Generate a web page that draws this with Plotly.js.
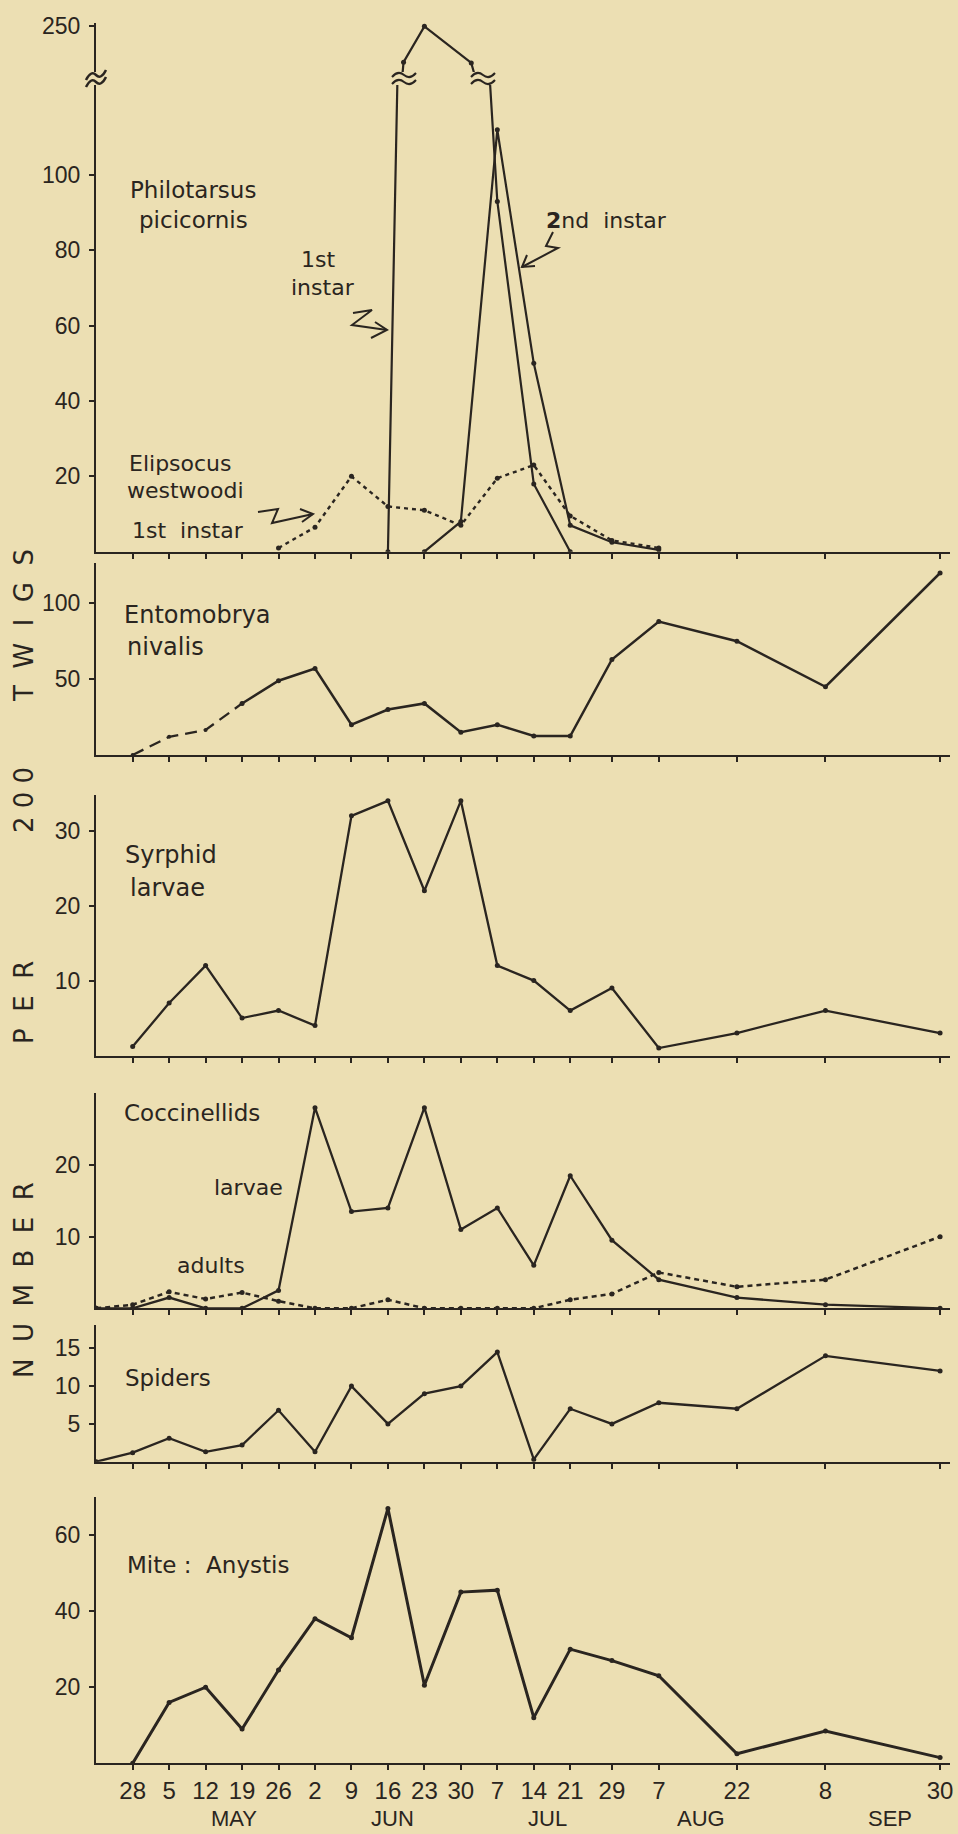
<!DOCTYPE html>
<html>
<head>
<meta charset="utf-8">
<script src="https://cdn.plot.ly/plotly-3.0.1.min.js"></script>
<style>html,body{margin:0;padding:0;background:#ecdfb3;}#chart{width:958px;height:1834px;}</style>
</head>
<body>
<div id="chart"></div>
<script>
// ---------- DATA ----------
const tickDates = ['1974-04-28','1974-05-05','1974-05-12','1974-05-19','1974-05-26','1974-06-02','1974-06-09','1974-06-16','1974-06-23','1974-06-30','1974-07-07','1974-07-14','1974-07-21','1974-07-29','1974-08-07','1974-08-22','1974-09-08','1974-09-30'];
const tickLabels = ['28','5','12','19','26','2','9','16','23','30','7','14','21','29','7','22','8','30'];
const monthLabels = ['MAY','JUN','JUL','AUG','SEP'];
const datesFromApr21 = ['1974-04-21'].concat(tickDates);

// Philotarsus picicornis
const phil1Dates = ['1974-06-16','1974-06-19','1974-06-23','1974-07-02','1974-07-07','1974-07-14','1974-07-21'];
const phil1Values = [0, 206, 249, 205, 93, 18, 0];
const phil2Dates = ['1974-06-23','1974-06-30','1974-07-07','1974-07-14','1974-07-21','1974-07-29','1974-08-07'];
const phil2Values = [0, 8, 112, 50, 7, 2.5, 0.5];
// Elipsocus westwoodi 1st instar
const elipDates = ['1974-05-26','1974-06-02','1974-06-09','1974-06-16','1974-06-23','1974-06-30','1974-07-07','1974-07-14','1974-07-21','1974-07-29','1974-08-07'];
const elipValues = [1, 6.5, 20, 12, 11, 7, 19.5, 23, 9.5, 3, 1];
// Entomobrya nivalis (Apr 28 - Sep 30)
const entoValues = [0, 12, 16.5, 34, 49, 57, 20, 30, 34, 15, 20, 12.5, 12.5, 63, 88, 75, 45, 120];
// Syrphid larvae (Apr 28 - Sep 30)
const syrphValues = [1.2, 7, 12, 5, 6, 4, 32, 34, 22, 34, 12, 10, 6, 9, 1, 3, 6, 3];
// Coccinellids (Apr 21 - Sep 30)
const coccLarvae = [0, 0, 1.5, 0, 0, 2.5, 28, 13.5, 14, 28, 11, 14, 6, 18.5, 9.5, 4, 1.5, 0.5, 0];
const coccAdults = [0, 0.5, 2.3, 1.3, 2.2, 1, 0, 0, 1.2, 0, 0, 0, 0, 1.2, 2, 5, 3, 4, 10];
// Spiders (Apr 21 - Sep 30)
const spiderValues = [0, 1.2, 3.1, 1.3, 2.2, 6.8, 1.3, 10, 5, 9, 10, 14.5, 0.3, 7, 5, 7.8, 7, 14, 12];
// Mite: Anystis (Apr 28 - Sep 30)
const miteValues = [0, 16, 20, 9, 24.5, 38, 33, 67, 20.5, 45, 45.5, 12, 30, 27, 23, 2.5, 8.5, 1.5];

// ---------- STYLE / LAYOUT HELPERS ----------
const W = 958, H = 1834;
const INK = '#2a2520';
const BG = '#ecdfb3';
const LABEL_FONT = 'DejaVu Sans, Liberation Sans, sans-serif';
const TICK_FONT = 'Liberation Sans, Arial, sans-serif';
const X = px => px / W;
const Y = py => 1 - py / H;
const dom = (top, bottom) => [Y(bottom), Y(top)];
const xRange = ['1974-04-20 23:00', '1974-10-01 21:40'];

function xAxis(anchor, labels) {
  return {
    type: 'date', range: xRange, domain: [X(96), X(950)], anchor: anchor,
    showgrid: false, zeroline: false, showline: true, linecolor: INK, linewidth: 2,
    ticks: 'outside', ticklen: 5, tickwidth: 2, tickcolor: INK,
    tickmode: 'array', tickvals: tickDates, ticktext: tickLabels,
    showticklabels: labels, tickfont: {family: TICK_FONT, size: 24, color: INK},
    fixedrange: true
  };
}
function yAxis(anchor, domain, range, tickvals) {
  return {
    domain: domain, range: range, anchor: anchor,
    showgrid: false, zeroline: false, showline: true, linecolor: INK, linewidth: 2,
    ticks: 'outside', ticklen: 5, tickwidth: 2, tickcolor: INK,
    tickmode: 'array', tickvals: tickvals, ticktext: tickvals.map(String),
    tickfont: {family: TICK_FONT, size: 23, color: INK}, ticklabelstandoff: 4,
    fixedrange: true
  };
}
function line(x, y, xa, ya, width, dash, msize) {
  return {
    type: 'scatter', mode: 'lines+markers', x: x, y: y, xaxis: xa, yaxis: ya,
    line: {color: INK, width: width, dash: dash || 'solid'},
    marker: {color: INK, size: msize === undefined ? 5 : msize},
    showlegend: false, hoverinfo: 'skip'
  };
}

const traces = [
  // Philotarsus lower + upper (broken axis)
  line(phil1Dates, phil1Values, 'x6', 'y6', 2.2),
  line(phil1Dates, phil1Values, 'x6', 'y7', 2.2),
  line(phil2Dates, phil2Values, 'x6', 'y6', 2.2),
  line(elipDates, elipValues, 'x6', 'y6', 2.4, '4px,4px'),
  // Entomobrya (dashed start, then solid)
  line(tickDates.slice(0, 4), entoValues.slice(0, 4), 'x5', 'y5', 2.3, '12px,7px', 4),
  line(tickDates.slice(3), entoValues.slice(3), 'x5', 'y5', 2.5),
  // Syrphid
  line(tickDates, syrphValues, 'x4', 'y4', 2.3),
  // Coccinellids
  line(datesFromApr21, coccAdults, 'x3', 'y3', 2.5, '5px,4px'),
  line(datesFromApr21, coccLarvae, 'x3', 'y3', 2.3),
  // Spiders
  line(datesFromApr21, spiderValues, 'x2', 'y2', 2.3),
  // Mite
  line(tickDates, miteValues, 'x', 'y', 3)
];

// ---------- annotations ----------
function label(text, x, y, size, anchor) {
  return {text: text, x: X(x), y: Y(y), xref: 'paper', yref: 'paper',
          xanchor: anchor || 'left', yanchor: 'middle', showarrow: false,
          font: {family: LABEL_FONT, size: size || 22, color: INK}};
}
const nb = '\u00a0\u00a0';
function vword(text, yc) {
  return {text: text, x: X(24), y: Y(yc), xref: 'paper', yref: 'paper',
          xanchor: 'center', yanchor: 'middle', textangle: -90, showarrow: false,
          font: {family: LABEL_FONT, size: 26, color: INK}};
}
const monthPos = [234, 392, 547, 701, 890];
const annotations = [
  label('Philotarsus', 128, 190, 23),
  label('picicornis', 137, 220, 23),
  label('1st', 318, 260, 22, 'center'),
  label('instar', 323, 288, 22, 'center'),
  label('<b>2</b>nd  instar', 606, 220, 22, 'center'),
  label('Elipsocus', 127, 463, 22),
  label('westwoodi', 125, 490, 22),
  label('1st  instar', 130, 530, 22),
  label('Entomobrya', 122, 615, 24),
  label('nivalis', 125, 647, 24),
  label('Syrphid', 123, 855, 24),
  label('larvae', 128, 888, 24),
  label('Coccinellids', 122, 1113, 23),
  label('larvae', 212, 1187, 22),
  label('adults', 175, 1265, 22),
  label('Spiders', 123, 1378, 23),
  label('Mite :  Anystis', 125, 1565, 23),
  vword(['T','W','I','G','S'].join(nb), 626),
  vword('2 0 0', 800),
  vword(['P','E','R'].join(nb), 1003),
  vword(['N','U','M','B','E','R'].join(nb), 1280)
].concat(monthLabels.map((m, i) => ({
  text: m, x: X(monthPos[i]), y: Y(1833), xref: 'paper', yref: 'paper',
  xanchor: 'center', yanchor: 'bottom', showarrow: false,
  font: {family: TICK_FONT, size: 22, color: INK}
})));

// ---------- decorative shapes (arrows, break marks) ----------
function pathFrom(points) {
  return 'M ' + points.map(p => X(p[0]).toFixed(5) + ',' + Y(p[1]).toFixed(5)).join(' L ');
}
function tilde(cx, cy, w, s) {
  const p = (x, y) => X(x).toFixed(5) + ',' + Y(y).toFixed(5);
  return 'M ' + p(cx - w / 2, cy + s) + ' Q ' + p(cx - w / 4, cy - 5) + ' ' + p(cx, cy) +
         ' Q ' + p(cx + w / 4, cy + 5) + ' ' + p(cx + w / 2, cy - s);
}
function pathShape(path, width) {
  return {type: 'path', path: path, xref: 'paper', yref: 'paper',
          line: {color: INK, width: width || 2}};
}
const shapes = [
  // zigzag arrows
  pathShape(pathFrom([[353,313],[372,310],[352,325],[387,330]])),
  pathShape(pathFrom([[375,322],[387,330],[371,338]])),
  pathShape(pathFrom([[258,512],[278,509],[272,523],[313,514]])),
  pathShape(pathFrom([[300,509],[313,514],[302,522]])),
  pathShape(pathFrom([[553,232],[546,246],[558,248],[522,267]])),
  pathShape(pathFrom([[535,266],[522,267],[527,255]])),
  // break marks on data lines
  pathShape(tilde(404, 75, 24, 2)), pathShape(tilde(404, 82, 24, 2)),
  pathShape(tilde(483, 75, 24, 2)), pathShape(tilde(483, 82, 24, 2)),
  // break mark on the y axis
  pathShape(tilde(96, 75, 20, 5), 2.5), pathShape(tilde(96, 82, 20, 5), 2.5)
];

const layout = {
  width: W, height: H,
  margin: {l: 0, r: 0, t: 0, b: 0},
  paper_bgcolor: BG, plot_bgcolor: 'rgba(0,0,0,0)',
  showlegend: false,
  font: {family: TICK_FONT, color: INK},
  xaxis: xAxis('y', true),
  xaxis2: xAxis('y2', false),
  xaxis3: xAxis('y3', false),
  xaxis4: xAxis('y4', false),
  xaxis5: xAxis('y5', false),
  xaxis6: xAxis('y6', false),
  yaxis: yAxis('x', dom(1496.7, 1763.3), [0, 70.07], [20, 40, 60]),
  yaxis2: yAxis('x2', dom(1325, 1461.7), [0, 18.08], [5, 10, 15]),
  yaxis3: yAxis('x3', dom(1093, 1308.3), [0, 30.05], [10, 20]),
  yaxis4: yAxis('x4', dom(795, 1055.5), [0, 34.78], [10, 20, 30]),
  yaxis5: yAxis('x5', dom(563, 755), [0, 126.6], [50, 100]),
  yaxis6: yAxis('x6', dom(85, 551.7), [0, 123.9], [20, 40, 60, 80, 100]),
  yaxis7: yAxis('x6', dom(23, 72), [194.2, 253], [250]),
  annotations: annotations,
  shapes: shapes
};

Plotly.newPlot('chart', traces, layout, {staticPlot: true, displayModeBar: false});
</script>
</body>
</html>
